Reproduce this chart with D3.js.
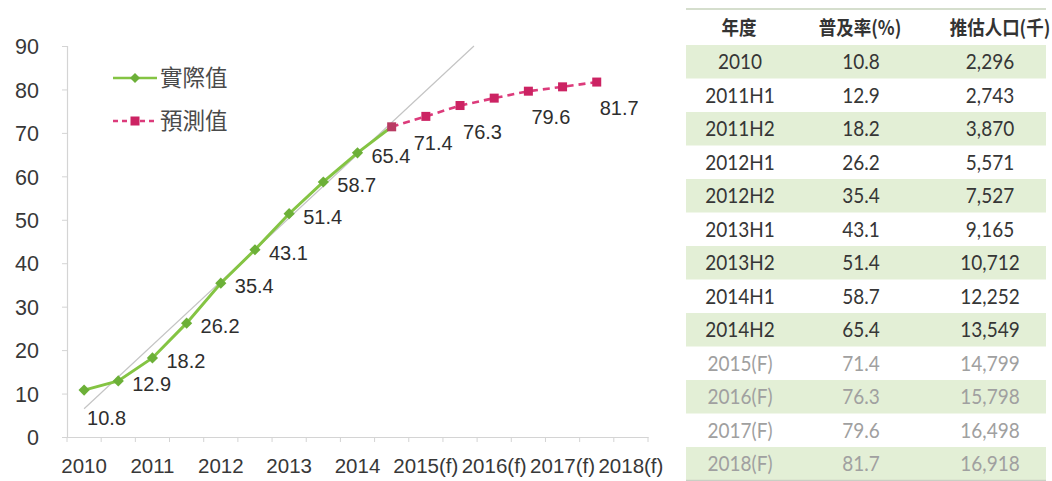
<!DOCTYPE html>
<html>
<head>
<meta charset="utf-8">
<script src="https://cdn.jsdelivr.net/npm/d3@7"></script>
<style>
  html, body { margin: 0; padding: 0; background: #fff; }
  svg { display: block; }
</style>
</head>
<body>
<svg id="chart" width="1052" height="481"></svg>
<script>
// Half-year periods along the category axis (last slot left empty)
const periods = ["2010","2011H1","2011H2","2012H1","2012H2","2013H1","2013H2","2014H1","2014H2",
                 "2015H1","2015H2","2016H1","2016H2","2017H1","2017H2","2018H1","2018H2"];
// Year labels shown on every second period
const xTickLabels = ["2010","2011","2012","2013","2014","2015(f)","2016(f)","2017(f)","2018(f)"];
const yTicks = [0,10,20,30,40,50,60,70,80,90];

// Penetration rate (%) — observed
const actualValues = [10.8,12.9,18.2,26.2,35.4,43.1,51.4,58.7,65.4];
// Penetration rate (%) — forecast, continuing right after the last observed period
const forecastValues = [71.4,73.8,76.3,78.0,79.6,80.6,81.7];

const legendLabels = ["實際值","預測值"];

// Side table
const tableHeader = ["年度","普及率(%)","推估人口(千)"];
const tableYears = ["2010","2011H1","2011H2","2012H1","2012H2","2013H1","2013H2","2014H1","2014H2",
                    "2015(F)","2016(F)","2017(F)","2018(F)"];
const tableRates = [10.8,12.9,18.2,26.2,35.4,43.1,51.4,58.7,65.4,71.4,76.3,79.6,81.7];
const tablePopulation = [2296,2743,3870,5571,7527,9165,10712,12252,13549,14799,15798,16498,16918];
const firstForecastRow = 9;

// ---------- chart ----------
const svg = d3.select("#chart");
const GREEN = "#84c443", GREEN_DARK = "#6cb038";
const PINK = "#dc3b7b", PINK_DARK = "#cc2363";
const AXIS = "#d4d4d4";
const FONT = "'Liberation Sans', Arial, sans-serif";
const CJK = "'Noto Sans CJK TC', 'Noto Sans CJK SC', sans-serif";

const plot = { left: 67, right: 648, top: 46, bottom: 437 };

const x = d3.scaleBand().domain(periods).range([plot.left, plot.right]).padding(0);
const cx = p => x(p) + x.bandwidth() / 2;
const y = d3.scaleLinear().domain([0, 90]).range([plot.bottom, plot.top]);

const actual = actualValues.map((v, i) => ({ p: periods[i], i, v }));
const forecast = forecastValues.map((v, i) => ({ p: periods[actualValues.length + i], i: actualValues.length + i, v }));

// Y axis
const yAxis = d3.axisLeft(y).tickValues(yTicks).tickSize(5).tickPadding(23).tickFormat(d3.format("d"));
const gy = svg.append("g").attr("transform", `translate(${plot.left},0)`).call(yAxis);
gy.select(".domain").attr("stroke", AXIS).attr("stroke-width", 1.2);
gy.selectAll(".tick line").attr("stroke", AXIS);
gy.selectAll(".tick text").attr("font-family", FONT).attr("font-size", 21.5).attr("fill", "#383838").attr("dy", "0.36em");

// X axis: labels at period centres, tick marks on period boundaries
const xAxis = d3.axisBottom(x)
  .tickValues(periods.filter((d, i) => i % 2 === 0))
  .tickFormat((d, i) => xTickLabels[i])
  .tickSize(0).tickPadding(21);
const gx = svg.append("g").attr("transform", `translate(0,${plot.bottom})`).call(xAxis);
gx.select(".domain").attr("stroke", AXIS).attr("stroke-width", 1.2);
gx.selectAll(".tick text").attr("font-family", FONT).attr("font-size", 20.5).attr("fill", "#383838");
gx.selectAll(".boundary")
  .data(periods.map(p => x(p)).concat([plot.right]))
  .join("line")
  .attr("class", "boundary")
  .attr("x1", d => d).attr("x2", d => d)
  .attr("y1", 0).attr("y2", 5)
  .attr("stroke", AXIS);

// Linear trend of the observed series, clipped to the plot area
const mx = d3.mean(actual, d => d.i), my = d3.mean(actual, d => d.v);
const slope = d3.sum(actual, d => (d.i - mx) * (d.v - my)) / d3.sum(actual, d => (d.i - mx) ** 2);
const intercept = my - slope * mx;
const iTop = (90 - intercept) / slope;
const step = x.step();
const xi = i => plot.left + step * (i + 0.5);
svg.append("line")
  .attr("x1", xi(0)).attr("y1", y(intercept))
  .attr("x2", xi(iTop)).attr("y2", y(90))
  .attr("stroke", "#c4c4c4").attr("stroke-width", 1.2);

const line = d3.line().x(d => cx(d.p)).y(d => y(d.v));

// Observed line runs up to the first forecast point
svg.append("path")
  .datum(actual.concat([forecast[0]]))
  .attr("d", line)
  .attr("fill", "none").attr("stroke", GREEN).attr("stroke-width", 3);

// Forecast line
svg.append("path")
  .datum(forecast)
  .attr("d", line)
  .attr("fill", "none").attr("stroke", PINK).attr("stroke-width", 2.6)
  .attr("stroke-dasharray", "7,5");

// Markers: square diamonds for observed, squares for forecast
const diamondPath = r => `M0,${-r}L${r},0L0,${r}L${-r},0Z`;
svg.selectAll(".dm").data(actual).join("path")
  .attr("class", "dm")
  .attr("d", diamondPath(5.6))
  .attr("transform", d => `translate(${cx(d.p)},${y(d.v)})`)
  .attr("fill", GREEN_DARK);

svg.selectAll(".sq").data(forecast).join("rect")
  .attr("class", "sq")
  .attr("x", d => cx(d.p) - 4.5).attr("y", d => y(d.v) - 4.5)
  .attr("width", 9).attr("height", 9)
  .attr("fill", d => d.i === actualValues.length ? "#b83b63" : PINK_DARK);

// Data labels
const labelStyle = sel => sel.attr("font-family", FONT).attr("font-size", 20).attr("fill", "#2e2e2e").attr("dy", "0.36em");

svg.selectAll(".al").data(actual).join("text")
  .attr("class", "al")
  .attr("x", d => d.i === 0 ? cx(d.p) + 3 : cx(d.p) + 14)
  .attr("y", d => d.i === 0 ? y(d.v) + 28 : y(d.v) + 3)
  .text(d => d3.format(".1f")(d.v))
  .call(labelStyle);

const forecastRates = tableRates.slice(firstForecastRow);
svg.selectAll(".fl").data(forecast.filter(d => forecastRates.includes(d.v))).join("text")
  .attr("class", "fl")
  .attr("x", d => d.i === actualValues.length ? cx(d.p) + 22 : cx(d.p) + 3)
  .attr("y", d => d.i === actualValues.length ? y(d.v) + 16 : y(d.v) + 26)
  .text(d => d3.format(".1f")(d.v))
  .call(labelStyle);

// Legend
const legend = svg.append("g");
const legendItems = [
  { label: legendLabels[0], color: GREEN, mark: GREEN_DARK, dash: null, shape: "diamond" },
  { label: legendLabels[1], color: PINK, mark: PINK_DARK, dash: "5,4", shape: "square" }
];
legendItems.forEach((it, k) => {
  const ly = 78 + k * 43;
  legend.append("line").attr("x1", 113).attr("x2", 157).attr("y1", ly).attr("y2", ly)
    .attr("stroke", it.color).attr("stroke-width", 2.6).attr("stroke-dasharray", it.dash);
  if (it.shape === "diamond") {
    legend.append("path").attr("d", diamondPath(5)).attr("transform", `translate(135,${ly})`).attr("fill", it.mark);
  } else {
    legend.append("rect").attr("x", 130.5).attr("y", ly - 4.5).attr("width", 9).attr("height", 9).attr("fill", it.mark);
  }
  legend.append("text").attr("x", 160).attr("y", ly).attr("dy", "0.36em")
    .attr("font-family", CJK).attr("font-size", 22.5).attr("fill", "#4a4a4a").text(it.label);
});

// ---------- table ----------
const TFONT = "Lato, 'Noto Sans', sans-serif";
const table = svg.append("g");
const tLeft = 686, tRight = 1046, headTop = 9, headBottom = 45, rowH = 33.5;
const dataCols = [740, 861, 990];
const headCols = [739, 860, 1000];
const rowY = i => headBottom + i * rowH;

table.selectAll(".band").data(tableYears.map((d, i) => i).filter(i => i % 2 === 0)).join("rect")
  .attr("class", "band")
  .attr("x", tLeft).attr("width", tRight - tLeft)
  .attr("y", i => rowY(i)).attr("height", rowH)
  .attr("fill", "#e3efd6");

table.append("line").attr("x1", tLeft).attr("x2", tRight).attr("y1", headTop).attr("y2", headTop)
  .attr("stroke", "#c7d3bd").attr("stroke-width", 1.5);
table.append("line").attr("x1", tLeft).attr("x2", tRight).attr("y1", rowY(tableYears.length)).attr("y2", rowY(tableYears.length))
  .attr("stroke", "#c9cfc4").attr("stroke-width", 1.5);

// Table text is drawn slightly tall, as in the printed table
const tall = (tx, ty) => `translate(${tx},${ty}) scale(1,1.12)`;

table.selectAll(".hd").data(tableHeader).join("text")
  .attr("class", "hd")
  .attr("transform", (d, i) => tall(headCols[i], (headTop + headBottom) / 2 + 1))
  .attr("dy", "0.36em").attr("text-anchor", "middle")
  .attr("font-family", CJK).attr("font-weight", 700).attr("font-size", 17.5)
  .attr("fill", "#333").text(d => d);

const rows = tableYears.map((yr, i) => [yr, d3.format(".1f")(tableRates[i]), d3.format(",")(tablePopulation[i])]);
rows.forEach((r, i) => {
  const col = i >= firstForecastRow ? "#a0a0a0" : "#363636";
  table.selectAll(`.r${i}`).data(r).join("text")
    .attr("class", `r${i}`)
    .attr("transform", (d, j) => tall(dataCols[j], rowY(i) + rowH / 2))
    .attr("dy", "0.36em").attr("text-anchor", "middle")
    .attr("font-family", TFONT).attr("font-size", 19)
    .attr("fill", col).text(d => d);
});
</script>
</body>
</html>
